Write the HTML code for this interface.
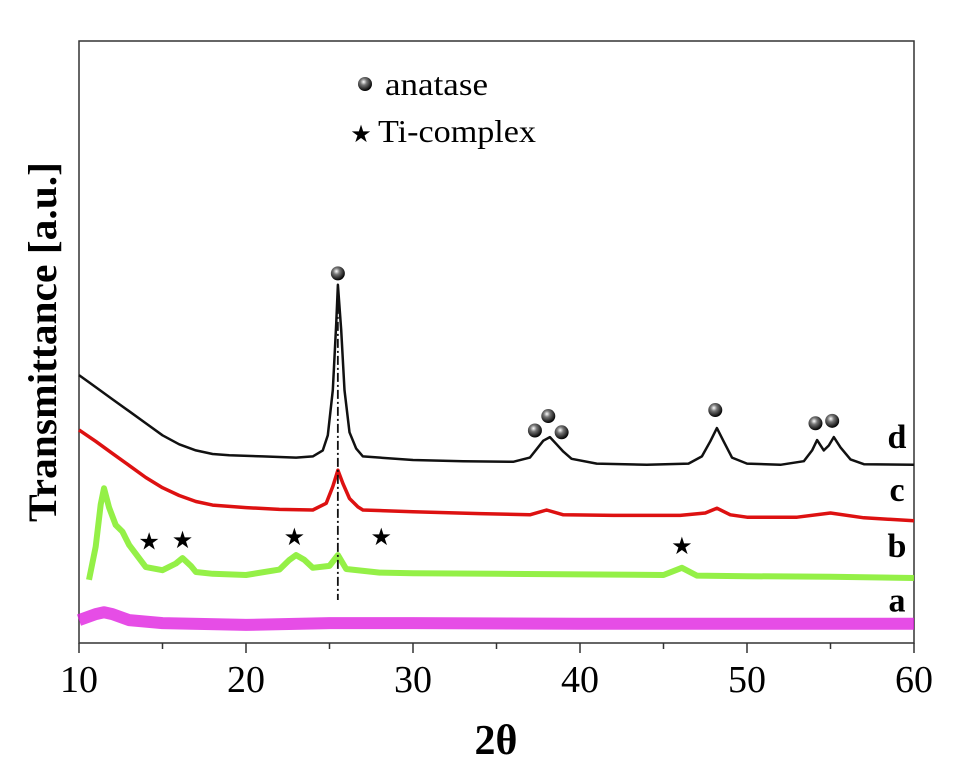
<!DOCTYPE html>
<html><head><meta charset="utf-8"><style>
body{margin:0;background:#fff}
svg{display:block;font-family:"Liberation Serif",serif}
</style></head><body>
<svg width="958" height="772" viewBox="0 0 958 772">
<defs>
<radialGradient id="ball" cx="0.4" cy="0.35" r="0.65">
<stop offset="0" stop-color="#fff"/><stop offset="0.35" stop-color="#777"/><stop offset="1" stop-color="#000"/>
</radialGradient>
</defs>
<g id="plot"></g>
</svg>
<script>
const xTicks=[10,20,30,40,50,60];
const dX=[10,11,12,13,14,15,16,17,18,19,21,23,24,24.6,24.9,25.2,25.4,25.5,25.7,25.9,26.2,26.6,27,30,33,36,37,37.4,37.8,38.2,38.6,39,39.5,41,44,46.5,47.3,47.8,48.2,48.6,49.1,50,52,53.4,53.9,54.2,54.6,54.9,55.2,55.6,56.2,57,60];
const dY=[44.5,42.5,40.5,38.5,36.5,34.5,33,32,31.4,31.2,31,30.8,31,32,34.5,42,53,59.5,52,42,35,32.3,31,30.4,30.2,30.1,30.8,32.2,33.6,34.2,33,31.8,30.6,29.8,29.6,29.8,31,33.5,35.7,33.5,30.8,29.8,29.6,30.2,32,33.7,32,32.8,34.2,32.5,30.5,29.7,29.6];
const cX=[10,11,12,13,14,15,16,17,18,20,22,24,24.8,25.2,25.5,25.8,26.2,26.7,27,30,34,37,38,39,42,46,47.5,48.2,49,50,53,55,57,60];
const cY=[35.4,33.5,31.5,29.5,27.5,25.8,24.5,23.5,22.9,22.5,22.2,22.1,23.2,26,28.7,26.5,24,22.6,22.1,21.8,21.5,21.3,22.1,21.3,21.2,21.2,21.6,22.4,21.3,20.9,20.9,21.6,20.8,20.3];
const bX=[10.6,11,11.3,11.5,11.8,12.2,12.6,13,14,15,15.8,16.2,16.7,17,18,20,22,22.6,23,23.5,24,25,25.5,26,28,30,35,40,45,46.1,47,50,55,60];
const bY=[10.5,16,23,25.7,22.5,19.6,18.5,16.3,12.6,12.1,13.2,14.1,12.8,11.8,11.5,11.3,12.2,13.8,14.6,13.8,12.5,12.8,14.6,12.3,11.7,11.6,11.5,11.4,11.3,12.5,11.2,11.1,11,10.8];
const aX=[10,11,11.5,12,13,15,20,25,30,40,50,60];
const aY=[3.8,4.8,5.1,4.8,3.8,3.3,3.0,3.3,3.3,3.2,3.2,3.2];
const anataseX=[25.5,37.3,38.1,38.9,48.1,54.1,55.1];
const anataseLevel=[61.4,35.3,37.7,35,38.7,36.5,36.9];
const starX=[14.2,16.2,22.9,28.1,46.1];
const starLevel=[16.9,17.1,17.6,17.6,16.1];
const labels=["d","c","b","a"];
const labelLevel=[34.2,25.4,16.1,7.1];

const L=79,R=914,T=41,B=643;
const sx=v=>L+(v-10)*(R-L)/50;
const sy=v=>B-v*6.02;
const NS="http://www.w3.org/2000/svg";
const g=document.getElementById('plot');
function mk(t,a,p){const e=document.createElementNS(NS,t);for(const k in a)e.setAttribute(k,a[k]);(p||g).appendChild(e);return e;}

const frame=mk('rect',{x:L,y:T,width:R-L,height:B-T,fill:'none',stroke:'#333','stroke-width':1.5});



function line(xs,ys,color,w,name,op){
  const d=xs.map((x,i)=>(i?'L':'M')+sx(x).toFixed(1)+','+sy(ys[i]).toFixed(1)).join('');
  const p=mk('path',{d:d,fill:'none',stroke:color,'stroke-width':w,'stroke-linejoin':'round','stroke-opacity':op||1});
  
  
}
line(aX,aY,'#e020e0',12,'series-a',0.8);
line(bX,bY,'#88ee33',6,'series-b',0.9);
line(cX,cY,'#dd1111',3.5,'series-c');
line(dX,dY,'#111',2.5,'series-d');

const ref=mk('line',{x1:sx(25.5),x2:sx(25.5),y1:sy(59),y2:600,stroke:'#111','stroke-width':1.8,'stroke-dasharray':'9,3,2,3'});



anataseX.forEach((x,i)=>{
  const c=mk('circle',{cx:sx(x),cy:sy(anataseLevel[i]),r:7,fill:'url(#ball)'});
  
  
});
starX.forEach((x,i)=>{
  const t=mk('text',{x:sx(x),y:sy(starLevel[i])+8,'text-anchor':'middle','font-size':24,fill:'#000'});
  t.textContent='★';
  
  
});
labels.forEach((s,i)=>{
  const t=mk('text',{x:897,y:sy(labelLevel[i])+11,'text-anchor':'middle','font-size':34,'font-weight':'bold'});
  t.textContent=s;
  
  
});
xTicks.forEach(v=>{
  mk('line',{x1:sx(v),x2:sx(v),y1:B,y2:B+10,stroke:'#333','stroke-width':1.5});
  const t=mk('text',{x:sx(v),y:692,'text-anchor':'middle','font-size':38});
  t.textContent=v;
  
  
  if(v<60) mk('line',{x1:sx(v+5),x2:sx(v+5),y1:B,y2:B+6,stroke:'#333','stroke-width':1.5});
});
</script>
<svg width="958" height="772" style="position:absolute;left:0;top:0">
<circle cx="365" cy="84" r="7" fill="url(#ball)"/>
<text x="385" y="95" font-size="32" textLength="103" lengthAdjust="spacingAndGlyphs" font-family="Liberation Serif,serif">anatase</text>
<text x="361" y="142" font-size="24" text-anchor="middle" font-family="Liberation Serif,serif">★</text>
<text x="378" y="142" font-size="32" textLength="158" lengthAdjust="spacingAndGlyphs" font-family="Liberation Serif,serif">Ti-complex</text>
<text x="496" y="754" font-size="42" font-weight="bold" text-anchor="middle" font-family="Liberation Serif,serif">2θ</text>
<text transform="translate(56,342) rotate(-90)" font-size="40" font-weight="bold" text-anchor="middle" textLength="360" lengthAdjust="spacingAndGlyphs" font-family="Liberation Serif,serif">Transmittance [a.u.]</text>
</svg>
</body></html>
